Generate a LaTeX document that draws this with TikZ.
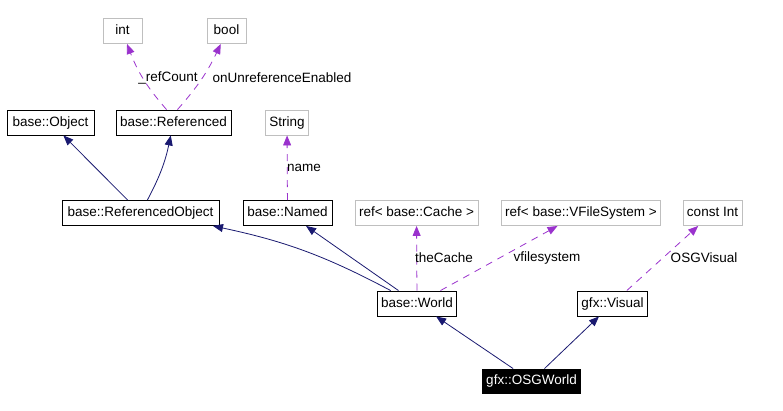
\documentclass[tikz,border=0pt]{standalone}
\usepackage{fontspec}
\setmainfont{Liberation Sans}
\usetikzlibrary{arrows.meta}
\definecolor{inhcol}{RGB}{25,25,112}
\definecolor{usecol}{RGB}{154,50,205}
\definecolor{extcol}{RGB}{191,191,191}
\tikzset{
  cls/.style={draw=black, line width=0.9pt, fill=white, minimum height=25pt, inner xsep=4pt, inner ysep=0pt, text height=10pt, text depth=2.5pt, font=\fontsize{13.5}{15}\selectfont},
  ext/.style={cls, draw=extcol},
  self/.style={cls, fill=black, text=white},
  inherit/.style={draw=inhcol, line width=0.8pt, -{Triangle[length=10pt,width=8pt]}},
  uses/.style={draw=usecol, line width=0.8pt, dash pattern=on 7pt off 6pt, -{Triangle[length=10pt,width=8pt]}},
  lbl/.style={font=\fontsize{13.5}{15}\selectfont, inner sep=1pt}
}
\begin{document}
\begin{tikzpicture}[x=1pt,y=-1pt]
				\useasboundingbox (0,0) rectangle (783,411);
				% classes
				\node[ext, minimum width=39pt] (int) at (122.5,31) {int};
				\node[ext, minimum width=39pt] (bool) at (226.5,31) {bool};
				\node[cls, minimum width=87pt] (object) at (50.5,122.5) {base::Object};
				\node[cls, minimum width=115pt] (referenced) at (173.5,122.5) {base::Referenced};
				\node[ext, minimum width=42pt] (string) at (287,122.5) {String};
				\node[cls, minimum width=157pt] (refobject) at (140.5,213) {base::ReferencedObject};
				\node[cls, minimum width=89pt] (named) at (287.5,213) {base::Named};
				\node[ext, minimum width=123pt] (cache) at (416.5,213) {ref< base::Cache >};
				\node[ext, minimum width=158pt] (vfs) at (581,213) {ref< base::VFileSystem >};
				\node[ext, minimum width=59pt] (constint) at (712.5,213) {const Int};
				\node[cls, minimum width=78pt] (world) at (417,303.5) {base::World};
				\node[cls, minimum width=69pt] (visual) at (612.5,303.5) {gfx::Visual};
				\node[self, minimum width=95pt, minimum height=24pt] (osgworld) at (531.5,381) {gfx::OSGWorld};
				% inheritance
				\draw[inherit] (refobject) -- (object);
				\draw[inherit] (refobject) to[bend right=8] (referenced);
				\draw[inherit] (world) to[bend right=8] (refobject);
				\draw[inherit] (world) -- (named);
				\draw[inherit] (osgworld) -- (world);
				\draw[inherit] (osgworld) -- (visual);
				% members
				\draw[uses] ([xshift=-7pt]referenced.north) to[bend left=10] (int);
				\draw[uses] ([xshift=4pt]referenced.north) to[bend right=8] (bool);
				\draw[uses] (named) -- (string);
				\draw[uses] (world) -- (cache);
				\draw[uses] (world) -- (vfs);
				\draw[uses] (visual) -- (constint);
				% labels
				\node[lbl] (lrefcount) at (168,78) {\_refCount};
				\node[lbl] (lunref) at (282,78) {onUnreferenceEnabled};
				\node[lbl] (lname) at (304,168) {name};
				\node[lbl] (lcache) at (444,258) {theCache};
				\node[lbl] (lvfs) at (547,258) {vfilesystem};
				\node[lbl] (losg) at (704,258) {OSGVisual};
			\end{tikzpicture}
\end{document}
